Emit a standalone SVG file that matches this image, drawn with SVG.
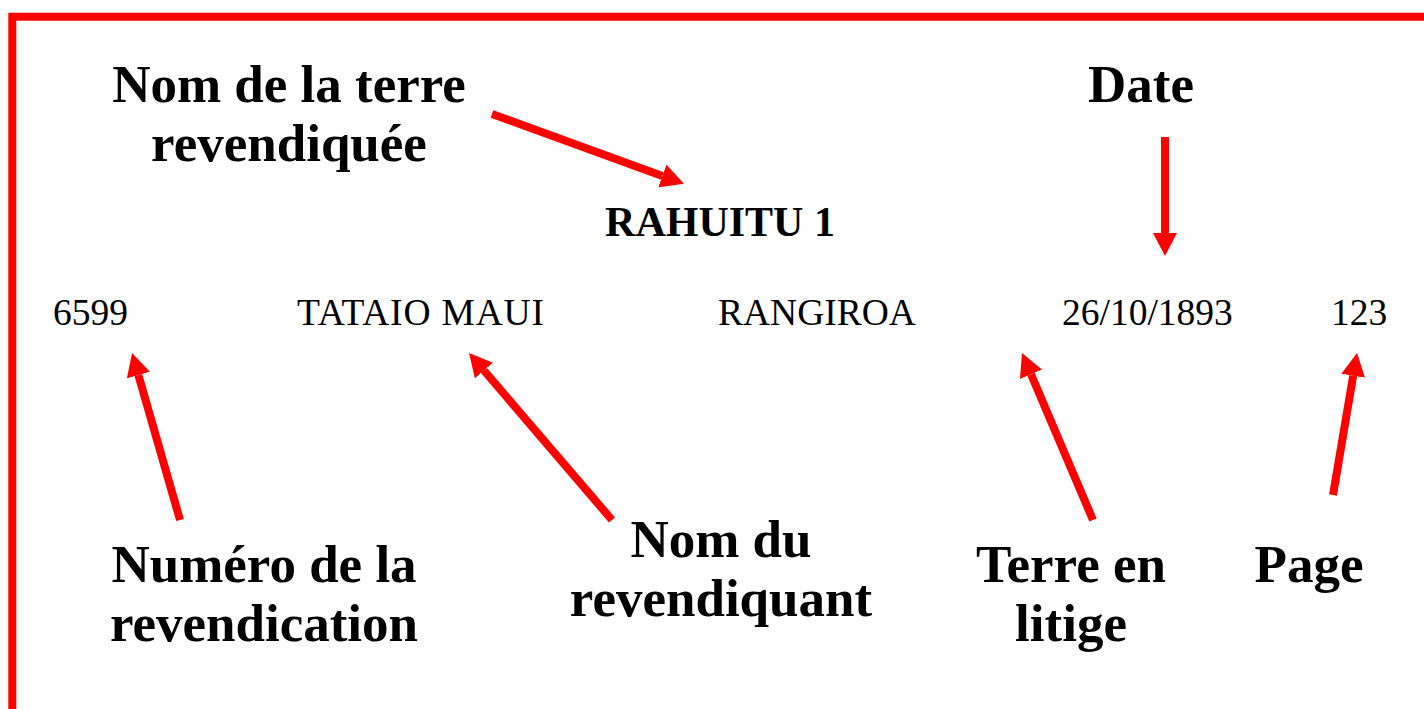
<svg xmlns="http://www.w3.org/2000/svg" width="1424" height="709" viewBox="0 0 1424 709">
  <style>
    .lbl { font-family: "Liberation Serif", "Times New Roman", serif; font-weight: bold; font-size: 53px; fill: #000; text-anchor: middle; }
    .title { font-family: "Liberation Serif", "Times New Roman", serif; font-weight: bold; font-size: 42px; fill: #000; text-anchor: middle; }
    .val { font-family: "Liberation Serif", "Times New Roman", serif; font-size: 37.5px; fill: #000; }
    .arr { stroke: #ff0000; stroke-width: 8; fill: none; marker-end: url(#head); }
  </style>
  <defs>
    <marker id="head" viewBox="0 0 23 24" refX="0" refY="12" markerWidth="23" markerHeight="24" markerUnits="userSpaceOnUse" orient="auto">
      <path d="M0,0 L23,12 L0,24 Z" fill="#ff0000"/>
    </marker>
  </defs>
  <rect width="1424" height="709" fill="#ffffff"/>
  <path d="M12.3,720 L12.3,16.7 L1430,16.7" stroke="#ff0000" stroke-width="8" fill="none" stroke-linejoin="miter"/>

  <g id="label-nom-terre"><text class="lbl" x="289" y="102">Nom de la terre</text><text class="lbl" x="289" y="161">revendiquée</text></g>
  <g id="label-date"><text class="lbl" x="1141" y="102">Date</text></g>
  <g id="title-rahuitu"><text class="title" x="720" y="236">RAHUITU 1</text></g>
  <g id="val-numero"><text class="val" x="53" y="325">6599</text></g>
  <g id="val-nom"><text class="val" x="297" y="325" textLength="247" lengthAdjust="spacing">TATAIO MAUI</text></g>
  <g id="val-terre"><text class="val" x="718" y="325">RANGIROA</text></g>
  <g id="val-date"><text class="val" x="1062" y="325">26/10/1893</text></g>
  <g id="val-page"><text class="val" x="1331" y="325">123</text></g>
  <g id="label-numero"><text class="lbl" x="264" y="582">Numéro de la</text><text class="lbl" x="264" y="641">revendication</text></g>
  <g id="label-revendiquant"><text class="lbl" x="721" y="557">Nom du</text><text class="lbl" x="721" y="616">revendiquant</text></g>
  <g id="label-litige"><text class="lbl" x="1071" y="582">Terre en</text><text class="lbl" x="1071" y="641">litige</text></g>
  <g id="label-page"><text class="lbl" x="1309" y="582">Page</text></g>

  <g id="connectors">
    <line class="arr" x1="492" y1="114" x2="662.4" y2="176.0"/>
    <line class="arr" x1="1165" y1="137" x2="1165" y2="233"/>
    <line class="arr" x1="180" y1="520" x2="138.4" y2="375.1"/>
    <line class="arr" x1="612" y1="520" x2="484.0" y2="370.5"/>
    <line class="arr" x1="1093" y1="520" x2="1031.0" y2="374.2"/>
    <line class="arr" x1="1333" y1="495" x2="1353.2" y2="375.7"/>
  </g>
</svg>
